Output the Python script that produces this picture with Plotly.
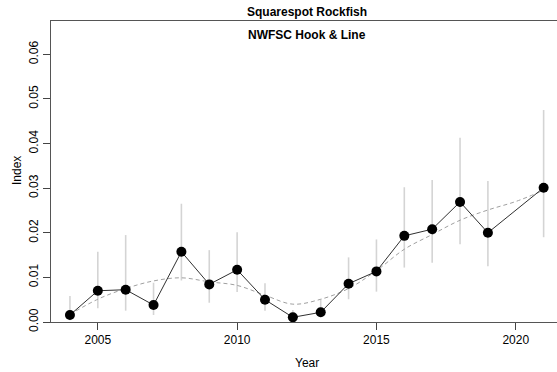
import plotly.graph_objects as go

years = [2004, 2005, 2006, 2007, 2008, 2009, 2010, 2011, 2012, 2013, 2014, 2015, 2016, 2017, 2018, 2019, 2021]
index = [0.00157, 0.0070, 0.00724, 0.0038, 0.01574, 0.00843, 0.0117, 0.0050, 0.00105, 0.00217, 0.00858, 0.01134, 0.0193, 0.0208, 0.0269, 0.0200, 0.0301]
upper = [0.0058, 0.01574, 0.01948, 0.0088, 0.0265, 0.0161, 0.0201, 0.0087, 0.0027, 0.0051, 0.01448, 0.0185, 0.0302, 0.0318, 0.0413, 0.0316, 0.0475]
lower = [0.0004, 0.00306, 0.00254, 0.00157, 0.0093, 0.00432, 0.0067, 0.0025, 0.0003, 0.0011, 0.0051, 0.0068, 0.0122, 0.0133, 0.0174, 0.0125, 0.0190]

fit_years = [2004, 2005, 2006, 2007, 2008, 2009, 2010, 2011, 2012, 2013, 2014, 2015, 2016, 2017, 2018, 2019, 2020, 2021]
fit_vals = [0.0017, 0.0051, 0.0075, 0.0092, 0.0099, 0.0090, 0.0082, 0.0060, 0.0040, 0.0051, 0.0075, 0.0115, 0.0163, 0.0196, 0.0228, 0.0251, 0.0270, 0.0295]

x_ticks = [2005, 2010, 2015, 2020]
y_ticks = [0.00, 0.01, 0.02, 0.03, 0.04, 0.05, 0.06]
y_tick_text = ["0.00", "0.01", "0.02", "0.03", "0.04", "0.05", "0.06"]

title = "Squarespot Rockfish"
subtitle = "NWFSC Hook & Line"
x_title = "Year"
y_title = "Index"

# error bar segments
ex, ey = [], []
for yr, lo, hi in zip(years, lower, upper):
    ex += [yr, yr, None]
    ey += [lo, hi, None]

FONT = "Liberation Sans, Arial, sans-serif"
W, H = 557, 372
L, R, T, B = 51, 0, 21, 50
PW, PH = W - L - R, H - T - B

def px_x(p):
    return (p - L) / PW

def px_y(p):
    return 1 - (p - T) / PH

fig = go.Figure()
fig.add_trace(go.Scatter(x=ex, y=ey, mode="lines",
                         line=dict(color="#d4d4d4", width=1.6),
                         hoverinfo="skip", showlegend=False))
fig.add_trace(go.Scatter(x=fit_years, y=fit_vals, mode="lines", line_shape="spline",
                         line=dict(color="#a0a0a0", width=1, dash="4px,3px"),
                         showlegend=False))
fig.add_trace(go.Scatter(x=years, y=index, mode="lines+markers",
                         line=dict(color="#303030", width=1),
                         marker=dict(color="black", size=10),
                         showlegend=False))

fig.update_layout(
    width=W, height=H,
    margin=dict(l=L, r=R, t=T, b=B, pad=0, autoexpand=False),
    paper_bgcolor="white", plot_bgcolor="white",
    font=dict(family=FONT, size=12, color="black"),
    title=dict(text="<b>" + title + "</b>", x=307/W, xanchor="center",
               y=1 - 12/H, yanchor="middle", font=dict(size=12)),
    annotations=[
        dict(text="<b>" + subtitle + "</b>", xref="paper", yref="paper",
             x=px_x(307), y=px_y(35), xanchor="center", yanchor="middle",
             showarrow=False, font=dict(size=12)),
        dict(text=x_title, xref="paper", yref="paper",
             x=px_x(307), y=px_y(362.5), xanchor="center", yanchor="middle",
             showarrow=False, font=dict(size=12)),
        dict(text=y_title, xref="paper", yref="paper", textangle=-90,
             x=px_x(17), y=px_y(171), xanchor="center", yanchor="middle",
             showarrow=False, font=dict(size=12)),
    ],
)
fig.update_xaxes(range=[2003.32, 2021.48], tickvals=x_ticks, ticks="outside", ticklen=7,
                 tickcolor="#444", showline=True, linecolor="#555", linewidth=1, mirror=True,
                 showgrid=False, zeroline=False, automargin=False, tickfont=dict(size=12))
fig.update_yaxes(range=[0, 0.06745], tickvals=y_ticks, ticktext=y_tick_text, tickangle=-90,
                 ticks="outside", ticklen=7, tickcolor="#444", showline=True, linecolor="#555",
                 linewidth=1, showgrid=False, zeroline=False, automargin=False,
                 tickfont=dict(size=12))

fig.write_html("out.html", config={"displayModeBar": False},
               post_script="document.body.style.margin='0';document.body.style.overflow='hidden';")
